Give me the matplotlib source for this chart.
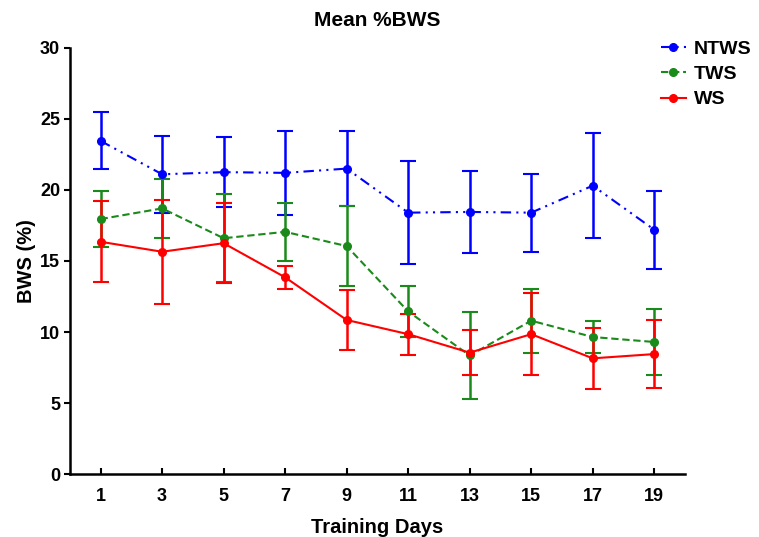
import matplotlib
matplotlib.use("Agg")
import matplotlib.pyplot as plt
from matplotlib.lines import Line2D

plt.rcParams["font.family"] = ["Liberation Sans", "DejaVu Sans"]
plt.rcParams["font.weight"] = "bold"

days = [1, 3, 5, 7, 9, 11, 13, 15, 17, 19]

ntws_mean = [23.45, 21.1, 21.25, 21.2, 21.5, 18.4, 18.45, 18.4, 20.3, 17.2]
ntws_err = [2.0, 2.7, 2.45, 2.95, 2.65, 3.6, 2.9, 2.75, 3.7, 2.75]

tws_mean = [17.95, 18.7, 16.6, 17.05, 16.05, 11.45, 8.35, 10.8, 9.65, 9.3]
tws_err = [1.95, 2.05, 3.1, 2.05, 2.8, 1.8, 3.05, 2.25, 1.1, 2.3]

ws_mean = [16.35, 15.65, 16.25, 13.85, 10.85, 9.85, 8.55, 9.85, 8.15, 8.45]
ws_err = [2.85, 3.65, 2.8, 0.8, 2.1, 1.45, 1.6, 2.9, 2.15, 2.4]

series = [
    ("NTWS", ntws_mean, ntws_err, "#0000ff", (0, (5, 2.5, 1, 2.5, 1, 2.5))),
    ("TWS", tws_mean, tws_err, "#1a8a1a", (0, (3.5, 1.8))),
    ("WS", ws_mean, ws_err, "#ff0000", "-"),
]

fig = plt.figure(figsize=(7.59, 5.37), dpi=100)
ax = fig.add_axes([0.092, 0.117, 0.8105, 0.794])

handles = []
for name, mean, err, color, style in series:
    ax.errorbar(days, mean, yerr=err, color=color, lw=1.5, ls=style,
                marker="o", ms=5.5, capsize=6, capthick=1.5, elinewidth=1.8)
    # legenden ska bara visa linje + punkt, inga felstaplar
    handles.append(Line2D([], [], color=color, lw=1.5, ls=style,
                          marker="o", ms=5.5, label=name))

ax.set_xlim(0, 20)
ax.set_ylim(0, 30)
ax.set_xticks(days)
ax.set_yticks(range(0, 31, 5))

for side in ["top", "right"]:
    ax.spines[side].set_visible(False)
for side in ["left", "bottom"]:
    ax.spines[side].set_linewidth(1.8)

ax.tick_params(axis="x", direction="in", length=4, width=1.5, pad=10, labelsize=13)
ax.tick_params(axis="y", direction="out", length=4, width=1.5, pad=3, labelsize=13)

ax.set_xlabel("Training Days", fontsize=14.5, fontweight="bold", labelpad=9)
ax.set_ylabel("BWS (%)", fontsize=14.5, fontweight="bold", labelpad=3)
ax.set_title("Mean %BWS", fontsize=15, fontweight="bold", pad=16)

fig.legend(handles=handles, loc="upper right", bbox_to_anchor=(1.013, 0.958),
           frameon=False, fontsize=14, handlelength=1.3, handletextpad=0.4,
           labelspacing=0.4)

fig.savefig("out.png", dpi=100)
